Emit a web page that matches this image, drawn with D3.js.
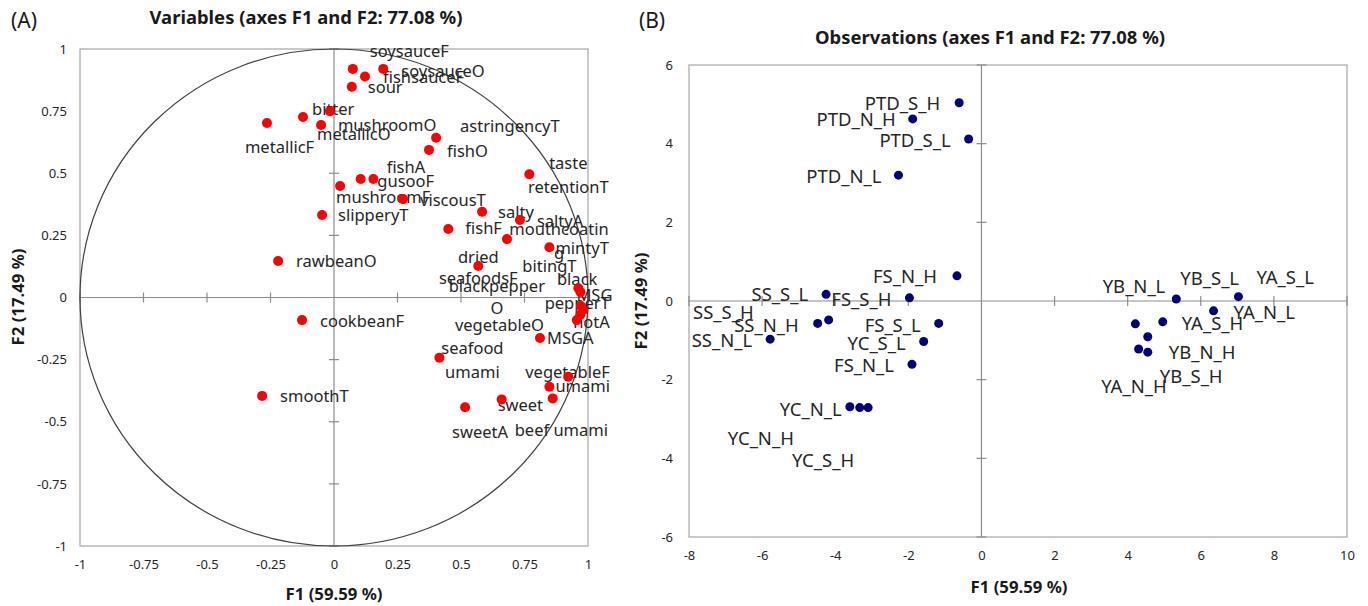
<!DOCTYPE html>
<html>
<head>
<meta charset="utf-8">
<script src="https://cdn.jsdelivr.net/npm/d3@7"></script>
<style>
body { margin: 0; background: #fff; }
svg { display: block; }
text { font-family: "Noto Sans", sans-serif; }
</style>
</head>
<body>
<svg width="1368" height="606"></svg>
<script>
// (A) variables: loadings on F1 / F2
var varNames = ["metallicF", "bitter", "metallicO", "mushroomO", "soysauceF", "soysauceO", "fishsauceF", "sour",
	"astringencyT", "fishO", "mushroomF", "fishA", "gusooF", "viscousT", "slipperyT", "salty", "saltyA", "fishF",
	"mouthcoating", "taste retentionT", "mintyT", "dried seafoodsF", "rawbeanO", "cookbeanF", "smoothT",
	"seafood umami", "MSGA", "vegetableF", "umami", "beef umami", "sweet", "sweetA", "bitingT", "MSG",
	"black pepperT", "hotA", "blackpepperO", "vegetableO"];
var varF1 = [-0.264, -0.122, -0.051, -0.016, 0.074, 0.194, 0.122, 0.070,
	0.402, 0.374, 0.024, 0.105, 0.155, 0.272, -0.047, 0.583, 0.732, 0.450,
	0.681, 0.769, 0.848, 0.568, -0.220, -0.126, -0.283,
	0.415, 0.811, 0.922, 0.848, 0.861, 0.660, 0.516, 0.962, 0.970,
	0.981, 0.969, 0.956, 0.972];
var varF2 = [0.702, 0.726, 0.694, 0.750, 0.920, 0.920, 0.889, 0.848,
	0.643, 0.594, 0.449, 0.477, 0.477, 0.396, 0.332, 0.345, 0.312, 0.276,
	0.235, 0.496, 0.202, 0.127, 0.147, -0.091, -0.396,
	-0.242, -0.163, -0.319, -0.359, -0.406, -0.410, -0.442, 0.037, 0.022,
	-0.050, -0.070, -0.091, -0.034];

// (B) observations: scores on F1 / F2
var obsNames = ["PTD_S_H", "PTD_N_H", "PTD_S_L", "PTD_N_L", "FS_N_H", "FS_S_H", "FS_S_L", "FS_N_L",
	"SS_S_L", "SS_S_H", "SS_N_H", "SS_N_L", "YC_S_L", "YC_N_L", "YC_N_H", "YC_S_H",
	"YB_S_L", "YA_S_L", "YA_N_L", "YB_N_L", "YA_S_H", "YB_S_H", "YA_N_H", "YB_N_H"];
var obsF1 = [-0.61, -1.88, -0.35, -2.27, -0.67, -1.97, -1.17, -1.90,
	-4.25, -4.18, -4.48, -5.78, -1.58, -3.33, -3.60, -3.10,
	5.33, 7.03, 6.35, 4.21, 4.96, 4.55, 4.30, 4.55];
var obsF2 = [5.04, 4.63, 4.12, 3.20, 0.64, 0.08, -0.57, -1.61,
	0.17, -0.48, -0.57, -0.97, -1.03, -2.71, -2.69, -2.71,
	0.05, 0.11, -0.25, -0.58, -0.53, -0.91, -1.22, -1.30];

var ticksA = [-1, -0.75, -0.5, -0.25, 0, 0.25, 0.5, 0.75, 1];
var ticksBx = [-8, -6, -4, -2, 0, 2, 4, 6, 8, 10];
var ticksBy = [-6, -4, -2, 0, 2, 4, 6];

// label placement: [anchor, dx, dy, lines, lineHeight]
var varLabelPos = {
	"metallicF": ["start", -22, 24], "bitter": ["start", 9, -8], "metallicO": ["start", -4, 9],
	"mushroomO": ["start", 8, 14], "soysauceF": ["start", 17, -18], "soysauceO": ["start", 18, 2],
	"fishsauceF": ["start", 18, 1], "sour": ["start", 16, 0], "astringencyT": ["start", 24, -11],
	"fishO": ["start", 18, 1], "mushroomF": ["start", -4, 11], "fishA": ["start", 26, -12],
	"gusooF": ["start", 4, 2], "viscousT": ["start", 17, 1], "slipperyT": ["start", 16, 0],
	"salty": ["start", 16, 0], "saltyA": ["start", 17, 1], "fishF": ["start", 17, -1],
	"mouthcoating": ["middle", 52, -10, ["mouthcoatin", "g"], 24],
	"taste retentionT": ["middle", 39, -11, ["taste", "retentionT"], 24],
	"mintyT": ["start", 6, 1],
	"dried seafoodsF": ["middle", 0, -9, ["dried", "seafoodsF"], 21],
	"rawbeanO": ["start", 18, 0], "cookbeanF": ["start", 18, 1], "smoothT": ["start", 18, 0],
	"seafood umami": ["middle", 33, -9, ["seafood", "umami"], 24],
	"MSGA": ["start", 7, 0], "vegetableF": ["start", -43, -5], "umami": ["start", 6, 0],
	"beef umami": ["start", -38, 32], "sweet": ["start", -4, 6], "sweetA": ["start", -13, 25],
	"bitingT": ["start", -56, -22], "MSG": ["start", -4, 3],
	"black pepperT": ["middle", -6, -31, ["black", "pepperT"], 24],
	"hotA": ["start", -7, 7],
	"blackpepperO": ["middle", -80, -34, ["blackpepper", "O"], 22],
	"vegetableO": ["start", -126, 19]
};
var obsLabelPos = {
	"PTD_S_H": ["end", -19, 1], "PTD_N_H": ["end", -17, 1], "PTD_S_L": ["end", -18, 2], "PTD_N_L": ["end", -17, 1],
	"FS_N_H": ["end", -20, 1], "FS_S_H": ["end", -18, 2], "FS_S_L": ["end", -18, 2], "FS_N_L": ["end", -18, 1],
	"SS_S_L": ["end", -18, 0], "SS_S_H": ["end", -75, -7], "SS_N_H": ["end", -19, 2], "SS_N_L": ["end", -18, 1],
	"YC_S_L": ["end", -18, 2], "YC_N_L": ["end", -18, 2], "YC_N_H": ["end", -56, 32], "YC_S_H": ["end", -14, 53],
	"YB_S_L": ["start", 4, -21], "YA_S_L": ["start", 18, -19], "YA_N_L": ["start", 20, 2], "YB_N_L": ["end", 30, -37],
	"YA_S_H": ["start", 19, 2], "YB_S_H": ["start", 12, 40], "YA_N_H": ["end", 28, 38], "YB_N_H": ["start", 21, 0]
};

var svg = d3.select("svg");
var fmt = function (d) { return String(d); };

function panel(opt) {
	var x = d3.scaleLinear().domain(opt.xDomain).range([opt.left, opt.right]);
	var y = d3.scaleLinear().domain(opt.yDomain).range([opt.bottom, opt.top]);
	var g = svg.append("g");

	// frame
	g.append("rect")
		.attr("x", opt.left).attr("y", opt.top)
		.attr("width", opt.right - opt.left).attr("height", opt.bottom - opt.top)
		.attr("fill", "none").attr("stroke", "#a6a6a6").attr("stroke-width", 1.2);

	// zero axes with crossing ticks
	g.append("line").attr("x1", opt.left).attr("x2", opt.right)
		.attr("y1", y(0)).attr("y2", y(0)).attr("stroke", "#8c8c8c").attr("stroke-width", 1.2);
	g.append("line").attr("x1", x(0)).attr("x2", x(0))
		.attr("y1", opt.top).attr("y2", opt.bottom).attr("stroke", "#8c8c8c").attr("stroke-width", 1.2);
	g.selectAll().data(opt.xTicks.filter(function (d) { return d !== 0; })).enter()
		.append("line")
		.attr("x1", function (d) { return x(d); }).attr("x2", function (d) { return x(d); })
		.attr("y1", y(0) - 5).attr("y2", y(0) + 5)
		.attr("stroke", "#8c8c8c").attr("stroke-width", 1.2);
	g.selectAll().data(opt.yTicks.filter(function (d) { return d !== 0; })).enter()
		.append("line")
		.attr("x1", x(0) - 5).attr("x2", x(0) + 5)
		.attr("y1", function (d) { return y(d); }).attr("y2", function (d) { return y(d); })
		.attr("stroke", "#8c8c8c").attr("stroke-width", 1.2);

	// tick labels
	var ax = g.append("g").attr("transform", "translate(0," + opt.bottom + ")")
		.call(d3.axisBottom(x).tickValues(opt.xTicks).tickFormat(fmt).tickSize(0).tickPadding(opt.xPad));
	var ay = g.append("g").attr("transform", "translate(" + opt.left + ",0)")
		.call(d3.axisLeft(y).tickValues(opt.yTicks).tickFormat(fmt).tickSize(0).tickPadding(opt.yPad));
	[ax, ay].forEach(function (a) {
		a.select(".domain").remove();
		a.selectAll("text").attr("font-family", "'Noto Sans', sans-serif")
			.attr("font-size", 13).attr("fill", "#262626");
	});

	return { g: g, x: x, y: y };
}

function drawLabels(g, x, y, names, f1, f2, pos, size) {
	names.forEach(function (name, i) {
		var p = pos[name];
		var lines = p[3] || [name];
		var lh = p[4] || 22;
		var t = g.append("text")
			.attr("x", x(f1[i]) + p[1])
			.attr("y", y(f2[i]) + p[2])
			.attr("text-anchor", p[0])
			.attr("font-size", size)
			.attr("fill", "#262626");
		lines.forEach(function (line, k) {
			t.append("tspan")
				.attr("x", x(f1[i]) + p[1])
				.attr("dy", k === 0 ? "0.35em" : lh)
				.text(line);
		});
	});
}

// ---- panel A ----
var A = panel({
	xDomain: [-1, 1], yDomain: [-1, 1],
	left: 80, right: 588, top: 49, bottom: 546,
	xTicks: ticksA, yTicks: ticksA, xPad: 14, yPad: 13
});

// correlation circle (radius 1)
A.g.append("ellipse")
	.attr("cx", A.x(0)).attr("cy", A.y(0))
	.attr("rx", A.x(1) - A.x(0)).attr("ry", A.y(0) - A.y(1))
	.attr("fill", "none").attr("stroke", "#404040").attr("stroke-width", 1.2);

drawLabels(A.g, A.x, A.y, varNames, varF1, varF2, varLabelPos, 16.5);

A.g.selectAll().data(varNames).enter()
	.append("circle")
	.attr("cx", function (d, i) { return A.x(varF1[i]); })
	.attr("cy", function (d, i) { return A.y(varF2[i]); })
	.attr("r", 5)
	.attr("fill", "#ff0000");

// ---- panel B ----
var B = panel({
	xDomain: [-8, 10], yDomain: [-6, 6],
	left: 689, right: 1347, top: 65, bottom: 537,
	xTicks: ticksBx, yTicks: ticksBy, xPad: 14, yPad: 16
});

drawLabels(B.g, B.x, B.y, obsNames, obsF1, obsF2, obsLabelPos, 18.5);

B.g.selectAll().data(obsNames).enter()
	.append("circle")
	.attr("cx", function (d, i) { return B.x(obsF1[i]); })
	.attr("cy", function (d, i) { return B.y(obsF2[i]); })
	.attr("r", 4.5)
	.attr("fill", "#00007f");

// ---- titles ----
function title(txt, x, y, size, weight, family, len, rot) {
	var t = svg.append("text")
		.attr("transform", "translate(" + x + "," + y + ")" + (rot ? " rotate(-90)" : ""))
		.attr("dy", "0.35em")
		.attr("text-anchor", "middle")
		.attr("font-size", size).attr("font-weight", weight || "normal")
		.attr("font-family", family || "'Noto Sans', sans-serif")
		.attr("fill", "#1a1a1a")
		.text(txt);
	if (len) t.attr("textLength", len).attr("lengthAdjust", "spacingAndGlyphs");
}
title("Variables (axes F1 and F2: 77.08 %)", 306, 18, 17, "bold", null, 313);
title("Observations (axes F1 and F2: 77.08 %)", 990, 38, 17, "bold", null, 350);
title("F1 (59.59 %)", 334, 594, 16, "bold", null, 97);
title("F1 (59.59 %)", 1019, 587, 16, "bold", null, 97);
title("F2 (17.49 %)", 18, 297, 16, "bold", null, 97, true);
title("F2 (17.49 %)", 641, 301, 16, "bold", null, 97, true);
title("(A)", 24, 21, 21, "normal", "'Liberation Serif', serif");
title("(B)", 652, 21, 21, "normal", "'Liberation Serif', serif");
</script>
</body>
</html>
